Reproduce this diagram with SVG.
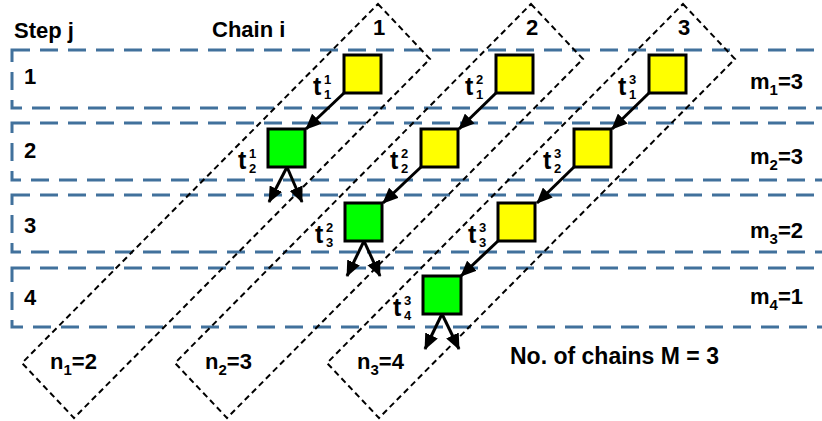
<svg xmlns="http://www.w3.org/2000/svg" width="822" height="421" viewBox="0 0 822 421">
<defs>
<style>
.row{fill:none;stroke:#41719C;stroke-width:3;stroke-dasharray:18 10}
.chain{fill:none;stroke:#000;stroke-width:2;stroke-dasharray:6 4}
.y{fill:#FFFF00;stroke:#000;stroke-width:3}
.g{fill:#00FF00;stroke:#000;stroke-width:3}
.arr{stroke:#000;stroke-width:3;fill:none;marker-end:url(#ah)}
text{font-family:"Liberation Sans",Arial,sans-serif;font-weight:bold;fill:#000}
.h{font-size:22px}
.t{font-size:25px}
.s{font-size:15px}
.ss{font-size:13px}
</style>
<marker id="ah" markerUnits="userSpaceOnUse" markerWidth="16" markerHeight="14" refX="15" refY="7" orient="auto">
<path d="M0,0 L16,7 L0,14 z" fill="#000"/>
</marker>
</defs>
<g id="rows">
<rect class="row" x="12" y="50" width="830" height="58"/>
<rect class="row" x="12" y="123" width="830" height="57"/>
<rect class="row" x="12" y="195" width="830" height="57"/>
<rect class="row" x="12" y="268" width="830" height="59"/>
</g>
<g id="chains">
<polygon id="chain1" class="chain" points="378,4 430,59 74,418 22,363"/>
<polygon id="chain2" class="chain" points="531,4 583,59 227,418 175,363"/>
<polygon id="chain3" class="chain" points="683,4 735,59 379,418 327,363"/>
</g>
<g id="headers">
<text class="h" x="14" y="38">Step j</text>
<text class="h" x="212" y="37">Chain i</text>
<text class="h" x="373" y="35">1</text>
<text class="h" x="526" y="35">2</text>
<text class="h" x="678" y="35">3</text>
<text class="h" x="24" y="84">1</text>
<text class="h" x="24" y="158">2</text>
<text class="h" x="24" y="233">3</text>
<text class="h" x="24" y="305">4</text>
<text class="h" x="750" y="89">m<tspan class="s" dy="6">1</tspan><tspan dy="-6">=3</tspan></text>
<text class="h" x="750" y="164">m<tspan class="s" dy="6">2</tspan><tspan dy="-6">=3</tspan></text>
<text class="h" x="750" y="238">m<tspan class="s" dy="6">3</tspan><tspan dy="-6">=2</tspan></text>
<text class="h" x="750" y="304">m<tspan class="s" dy="6">4</tspan><tspan dy="-6">=1</tspan></text>
<text class="h" x="50" y="369">n<tspan class="s" dy="6">1</tspan><tspan dy="-6">=2</tspan></text>
<text class="h" x="205" y="369">n<tspan class="s" dy="6">2</tspan><tspan dy="-6">=3</tspan></text>
<text class="h" x="357" y="369">n<tspan class="s" dy="6">3</tspan><tspan dy="-6">=4</tspan></text>
<text class="h" x="510" y="364" style="font-size:23px">No. of chains M = 3</text>
</g>
<g id="connectors">
<line class="arr" x1="344" y1="93" x2="306" y2="129"/>
<line class="arr" x1="287" y1="167" x2="269" y2="202"/>
<line class="arr" x1="287" y1="167" x2="302" y2="202"/>
<line class="arr" x1="496" y1="93" x2="459" y2="129"/>
<line class="arr" x1="421" y1="167" x2="383" y2="203"/>
<line class="arr" x1="364" y1="241" x2="347" y2="276"/>
<line class="arr" x1="364" y1="241" x2="380" y2="276"/>
<line class="arr" x1="649" y1="93" x2="612" y2="129"/>
<line class="arr" x1="574" y1="167" x2="537" y2="203"/>
<line class="arr" x1="498" y1="241" x2="461" y2="276"/>
<line class="arr" x1="442" y1="314" x2="425" y2="349"/>
<line class="arr" x1="442" y1="314" x2="459" y2="349"/>
</g>
<g id="n11"><rect class="y" x="344" y="55" width="37" height="38"/><text class="t" x="313" y="95">t</text><text class="ss" x="324" y="84">1</text><text class="ss" x="324" y="99">1</text></g>
<g id="n12"><rect class="g" x="268" y="129" width="37" height="38"/><text class="t" x="238" y="169">t</text><text class="ss" x="249" y="158">1</text><text class="ss" x="249" y="173">2</text></g>
<g id="n21"><rect class="y" x="496" y="55" width="37" height="38"/><text class="t" x="465" y="95">t</text><text class="ss" x="476" y="84">2</text><text class="ss" x="476" y="99">1</text></g>
<g id="n22"><rect class="y" x="421" y="129" width="37" height="38"/><text class="t" x="390" y="169">t</text><text class="ss" x="401" y="158">2</text><text class="ss" x="401" y="173">2</text></g>
<g id="n23"><rect class="g" x="345" y="203" width="37" height="38"/><text class="t" x="315" y="243">t</text><text class="ss" x="326" y="232">2</text><text class="ss" x="326" y="247">3</text></g>
<g id="n31"><rect class="y" x="649" y="55" width="37" height="38"/><text class="t" x="618" y="95">t</text><text class="ss" x="629" y="84">3</text><text class="ss" x="629" y="99">1</text></g>
<g id="n32"><rect class="y" x="574" y="129" width="37" height="38"/><text class="t" x="543" y="169">t</text><text class="ss" x="554" y="158">3</text><text class="ss" x="554" y="173">2</text></g>
<g id="n33"><rect class="y" x="498" y="203" width="37" height="38"/><text class="t" x="468" y="243">t</text><text class="ss" x="479" y="232">3</text><text class="ss" x="479" y="247">3</text></g>
<g id="n34"><rect class="g" x="423" y="276" width="38" height="38"/><text class="t" x="393" y="316">t</text><text class="ss" x="404" y="305">3</text><text class="ss" x="404" y="320">4</text></g>
</svg>
